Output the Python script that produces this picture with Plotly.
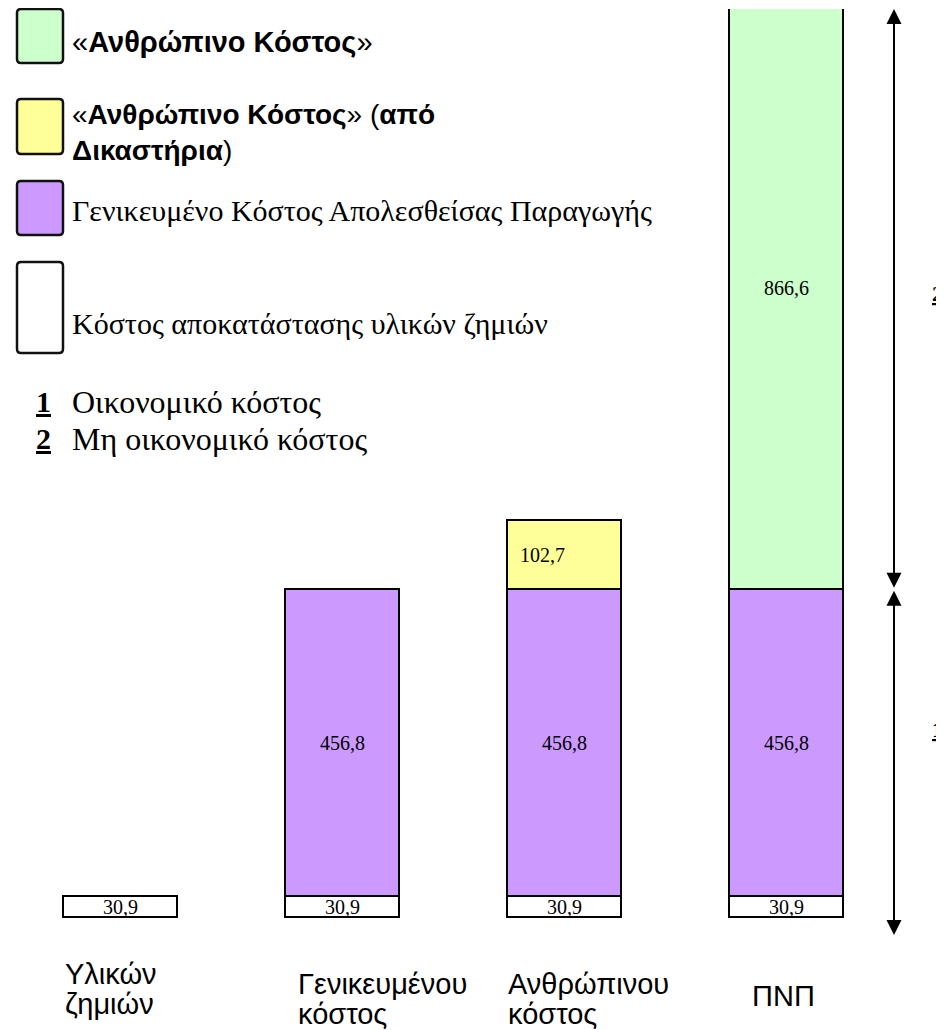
import plotly.graph_objects as go

# ---------------- data ----------------
categories = ["Υλικών ζημιών", "Γενικευμένου κόστος", "Ανθρώπινου κόστος", "ΠΝΠ"]
category_lines = [["Υλικών", "ζημιών"], ["Γενικευμένου", "κόστος"],
                  ["Ανθρώπινου", "κόστος"], ["ΠΝΠ"]]
material_cost = [30.9, 30.9, 30.9, 30.9]          # Κόστος αποκατάστασης υλικών ζημιών
generalized_cost = [None, 456.8, 456.8, 456.8]    # Γενικευμένο Κόστος Απολεσθείσας Παραγωγής
human_cost_courts = [None, None, 102.7, None]     # «Ανθρώπινο Κόστος» (από Δικαστήρια)
human_cost = [None, None, None, 866.6]            # «Ανθρώπινο Κόστος»

# ---------------- layout geometry (page pixels) ----------------
OFF = 8                      # page body margin
W, H = 944 - OFF, 1030 - OFF
T, B, L, R = 1, 0, 0, 0
zero_px = 917                # page row of value 0
k = 0.672                    # pixels per unit
step = 222                   # pixels per category
first_center = 120           # page column of first category

def pxx(p):
    return (p - OFF - L) / (W - L - R)

def pxy(p):
    return 1 - (p - OFF - T) / (H - T - B)

y_min = -(H - B - (zero_px - OFF)) / k
y_max = ((zero_px - OFF) - T) / k
x_min = -(first_center - OFF - L) / step
x_max = x_min + (W - L - R) / step

SERIF = "Liberation Serif, Times New Roman, serif"
SANS = "Liberation Sans, Arial, sans-serif"

def fmt(v):
    return f"{v:.1f}".replace(".", ",")

series = [
    (material_cost, "#FFFFFF"),
    (generalized_cost, "#CC99FF"),
    (human_cost_courts, "#FFFF99"),
    (human_cost, "#CCFFCC"),
]

fig = go.Figure()
for vals, col in series:
    fig.add_trace(go.Bar(
        x=categories, y=vals, width=0.51,
        marker=dict(color=col, line=dict(color="black", width=2)),
        hoverinfo="skip", showlegend=False,
    ))

annotations = []
shapes = []

# value labels, placed at the middle of each segment
for i in range(len(categories)):
    base = 0.0
    for si, (vals, col) in enumerate(series):
        v = vals[i]
        if v is None:
            continue
        annotations.append(dict(
            x=categories[i], y=base + v / 2, xref="x", yref="y",
            text=fmt(v), showarrow=False,
            xshift=-22 if si == 2 else 0,
            yshift=10 if si == 3 else 0,
            font=dict(family=SERIF, size=20, color="black"),
        ))
        base += v

# category labels
cat_left = [65, 298, 508, 752]
cat_first_y = [974, 984, 984, 996]
line_gap = 30
centers = [first_center + i * step for i in range(len(categories))]
for i, lines in enumerate(category_lines):
    for j, ln in enumerate(lines):
        annotations.append(dict(
            x=categories[i], xref="x", y=pxy(cat_first_y[i] + j * line_gap), yref="paper",
            text=ln, showarrow=False, xanchor="left", yanchor="middle",
            xshift=cat_left[i] - centers[i] - 2,
            font=dict(family=SANS, size=29, color="black"),
        ))

# arrows on the right
junction = material_cost[3] + generalized_cost[3]
arrow_x = pxx(894)
bottom_val = -(935 - zero_px) / k
for head, tail in [(y_max, junction), (bottom_val, junction)]:
    annotations.append(dict(
        xref="paper", x=arrow_x, yref="y", y=head,
        axref="pixel", ax=0, ayref="y", ay=tail,
        text="", showarrow=True, arrowside="end+start",
        arrowhead=2, startarrowhead=2, arrowsize=1.5, startarrowsize=1.5,
        arrowwidth=2, arrowcolor="black", standoff=0, startstandoff=0,
    ))
for txt, py in [("2", 294), ("1", 729)]:
    annotations.append(dict(
        xref="paper", x=pxx(930), yref="paper", y=pxy(py),
        text=f"<b><u>{txt}</u></b>", showarrow=False,
        xanchor="left", yanchor="middle",
        font=dict(family=SERIF, size=22, color="black"),
    ))

# legend (custom)
def rounded_box(x0, y0, x1, y1, fill, r=4):
    rx = r / (W - L - R)
    ry = r / (H - T - B)
    X0, X1 = pxx(x0), pxx(x1)
    Y0, Y1 = pxy(y0), pxy(y1)   # Y0 top, Y1 bottom
    path = (f"M{X0 + rx},{Y0} L{X1 - rx},{Y0} Q{X1},{Y0} {X1},{Y0 - ry} "
            f"L{X1},{Y1 + ry} Q{X1},{Y1} {X1 - rx},{Y1} "
            f"L{X0 + rx},{Y1} Q{X0},{Y1} {X0},{Y1 + ry} "
            f"L{X0},{Y0 - ry} Q{X0},{Y0} {X0 + rx},{Y0} Z")
    shapes.append(dict(type="path", xref="paper", yref="paper", path=path,
                       fillcolor=fill, line=dict(color="#111111", width=2.5),
                       layer="above"))

rounded_box(17, 9, 63, 63, "#CCFFCC")
rounded_box(17, 99, 63, 154, "#FFFF99")
rounded_box(17, 181, 63, 235, "#CC99FF")
rounded_box(17, 262, 63, 353, "#FFFFFF")

legend_texts = [
    ("«<b>Ανθρώπινο Κόστος</b>»", 42, SANS, 29),
    ("«<b>Ανθρώπινο Κόστος</b>» (<b>από</b><br><b>Δικαστήρια</b>)", 133, SANS, 28),
    ("Γενικευμένο Κόστος Απολεσθείσας Παραγωγής", 211, SERIF, 30),
    ("Κόστος αποκατάστασης υλικών ζημιών", 323, SERIF, 30),
    ("Οικονομικό κόστος", 402, SERIF, 32),
    ("Μη οικονομικό κόστος", 439, SERIF, 32),
]
for txt, py, fam, sz in legend_texts:
    annotations.append(dict(
        xref="paper", x=pxx(70), yref="paper", y=pxy(py),
        text=txt, showarrow=False, xanchor="left", yanchor="middle", align="left",
        font=dict(family=fam, size=sz, color="black"),
    ))
for txt, py in [("1", 402), ("2", 439)]:
    annotations.append(dict(
        xref="paper", x=pxx(34), yref="paper", y=pxy(py),
        text=f"<b><u>{txt}</u></b>", showarrow=False, xanchor="left", yanchor="middle",
        font=dict(family=SERIF, size=30, color="black"),
    ))

fig.update_layout(
    width=W, height=H,
    margin=dict(l=L, r=R, t=T, b=B, pad=0),
    barmode="stack", bargap=0,
    plot_bgcolor="white", paper_bgcolor="white",
    xaxis=dict(type="category", range=[x_min, x_max], visible=False, fixedrange=True),
    yaxis=dict(range=[y_min, y_max], visible=False, fixedrange=True),
    annotations=annotations, shapes=shapes,
    showlegend=False,
)

fig.write_html("out.html")
